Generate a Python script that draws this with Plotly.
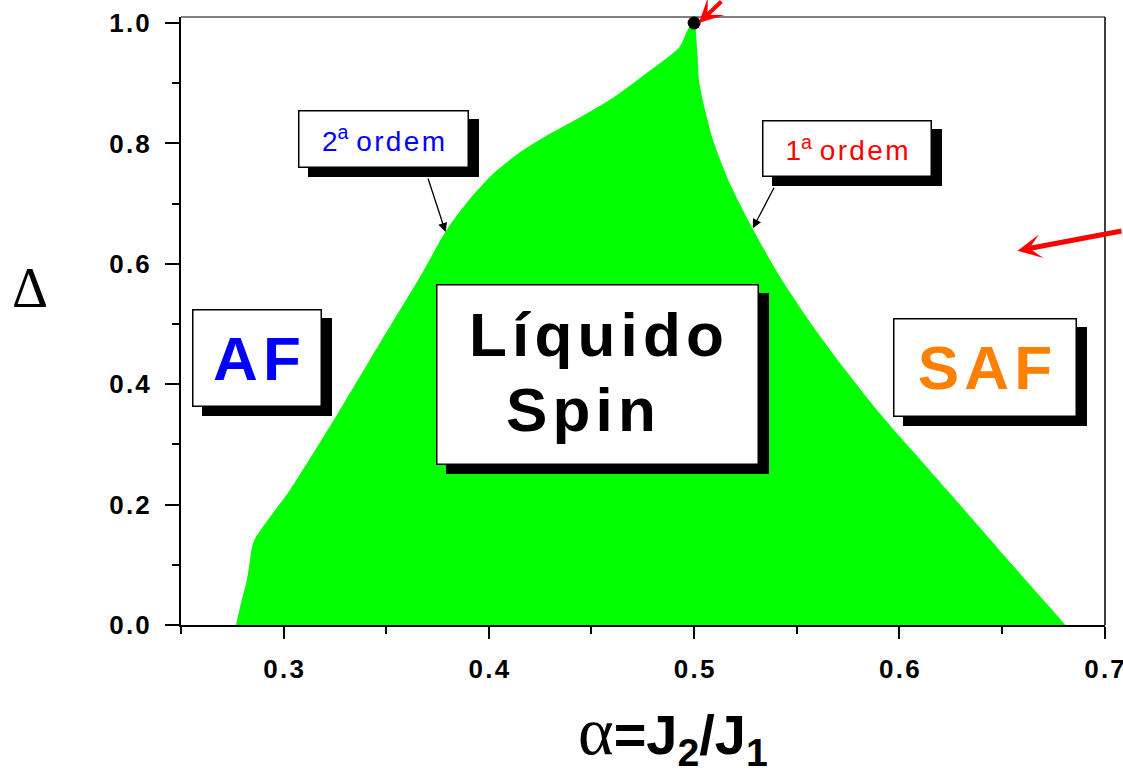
import plotly.graph_objects as go

# Phase boundaries in the (alpha = J2/J1, Delta) plane
# second-order line (AF | spin liquid), from Delta = 0 up to the tricritical point
left_alpha = [0.2768, 0.2796, 0.2821, 0.2836, 0.2846, 0.2862, 0.2888, 0.2948,
              0.3031, 0.3274, 0.3469, 0.3664, 0.3794, 0.3891, 0.4019, 0.4150,
              0.4282, 0.4443, 0.4603, 0.4769, 0.4929, 0.4968, 0.5000]
left_delta = [0.0000, 0.0415, 0.0748, 0.1080, 0.1300, 0.1445, 0.1580, 0.1860,
              0.2243, 0.3571, 0.4684, 0.5781, 0.6561, 0.7010, 0.7490, 0.7850,
              0.8130, 0.8430, 0.8754, 0.9169, 0.9601, 0.9884, 1.0000]
# first-order line (spin liquid | SAF), from the tricritical point down to Delta = 0
right_alpha = [0.5000, 0.5016, 0.5024, 0.5043, 0.5092, 0.5173, 0.5286, 0.5416,
               0.5578, 0.5741, 0.5903, 0.6065, 0.6228, 0.6390, 0.6551, 0.6715,
               0.6809]
right_delta = [1.0000, 0.9500, 0.9050, 0.8704, 0.8056, 0.7342, 0.6578, 0.5797,
               0.4967, 0.4219, 0.3522, 0.2890, 0.2259, 0.1628, 0.0997, 0.0365,
               0.0000]

# tricritical point
tri_alpha = [0.5]
tri_delta = [1.0]

# axis ticks
x_ticks = [0.3, 0.4, 0.5, 0.6, 0.7]
x_minor = [0.25, 0.35, 0.45, 0.55, 0.65]
y_ticks = [0.0, 0.2, 0.4, 0.6, 0.8, 1.0]
y_minor = [0.1, 0.3, 0.5, 0.7, 0.9]

HAIR = "\u200a"


def spaced(s, sep=HAIR):
    return sep.join(s)


x_labels = [spaced(f"{v:.1f}") for v in x_ticks]
y_labels = [spaced(f"{v:.1f}") for v in y_ticks]

SANS = "Liberation Sans, Arial, sans-serif"
SERIF = "Liberation Serif, Times New Roman, serif"

fig = go.Figure()

# spin-liquid region
fig.add_trace(go.Scatter(
    x=left_alpha + right_alpha[1:],
    y=left_delta + right_delta[1:],
    mode="lines", fill="toself", fillcolor="#00ff00",
    line=dict(width=0, color="#00ff00", shape="spline", smoothing=0.7),
    hoverinfo="skip", showlegend=False,
))

fig.add_trace(go.Scatter(
    x=tri_alpha, y=tri_delta, mode="markers",
    marker=dict(color="black", size=13),
    cliponaxis=False, hoverinfo="skip", showlegend=False,
))


def box(x, y, w, h, text=" ", font=None):
    """Framed label with a black drop shadow."""
    common = dict(x=x, y=y, xref="x", yref="y", showarrow=False,
                  xanchor="center", yanchor="middle",
                  width=w - 3, height=h - 3, borderpad=0, borderwidth=1.5,
                  bordercolor="black", align="center", valign="middle")
    fig.add_annotation(text=" ", bgcolor="black", xshift=10, yshift=-9, **common)
    fig.add_annotation(text=text, bgcolor="white", font=font or dict(), **common)


big = dict(family=SANS, size=62, weight="bold")

box(0.2870, 0.4435, 130, 98, spaced("AF"), dict(big, color="#0000ff"))
box(0.6416, 0.4271, 184, 99, spaced("SAF"), dict(big, color="#ff8000"))
box(0.4530, 0.4161, 323, 181)
fig.add_annotation(x=0.4523, y=0.4834, text=spaced("Líquido"), showarrow=False,
                   xanchor="center", yanchor="middle", font=dict(big, color="black"))
fig.add_annotation(x=0.4451, y=0.3588, text=spaced("Spin"), showarrow=False,
                   xanchor="center", yanchor="middle", font=dict(big, color="black"))

small = dict(family=SANS, size=28)
box(0.3487, 0.8070, 171, 58,
    "2<sup>a</sup> " + spaced("ordem"), dict(small, color="#0000ff"))
box(0.5746, 0.7922, 170, 57,
    "1<sup>a</sup> " + spaced("ordem"), dict(small, color="#ff0000"))

# pointers from the labels to the transition lines
fig.add_annotation(x=0.3789, y=0.6528, ax=-18, ay=-55, text="", showarrow=True,
                   arrowhead=2, arrowsize=1.4, arrowwidth=1.3, arrowcolor="black")
fig.add_annotation(x=0.5286, y=0.6590, ax=22, ay=-42, text="", showarrow=True,
                   arrowhead=2, arrowsize=1.4, arrowwidth=1.3, arrowcolor="black")

# red arrows
fig.add_annotation(x=0.6576, y=0.6218, ax=135, ay=-20, text="", showarrow=True,
                   arrowhead=3, arrowsize=0.8, arrowwidth=5, arrowcolor="#ff0000")
fig.add_annotation(x=0.5023, y=1.0, ax=24, ay=-40, text="", showarrow=True,
                   arrowhead=3, arrowsize=1.0, arrowwidth=4, arrowcolor="#ff0000")

# axis titles
fig.add_annotation(xref="paper", yref="paper", x=-0.1634, y=0.554,
                   xanchor="center", yanchor="middle",
                   text="\u0394", showarrow=False,
                   font=dict(family=SERIF, size=56, color="black"))
fig.add_annotation(xref="paper", yref="paper", x=0.5325, y=-0.178,
                   xanchor="center", yanchor="middle",
                   text=("<span style='font-family:Liberation Serif;font-weight:normal;font-size:68px'>\u03b1</span>"
                         "=J<sub>2</sub>/J<sub>1</sub>"),
                   showarrow=False,
                   font=dict(family=SANS, size=56, weight="bold", color="black"))

# frame: top and right edges
fig.add_shape(type="line", xref="x domain", yref="y domain", x0=0, x1=1, y0=1, y1=1,
              line=dict(color="black", width=1))
fig.add_shape(type="line", xref="x domain", yref="y domain", x0=1, x1=1, y0=0, y1=1,
              line=dict(color="black", width=1.5))

tickfont = dict(family=SANS, size=26, weight="bold", color="black")
fig.update_xaxes(
    range=[0.25, 0.7002], tickmode="array", tickvals=x_ticks, ticktext=x_labels,
    ticks="outside", ticklen=12, tickwidth=2, tickcolor="black",
    showline=True, linewidth=2, linecolor="black",
    showgrid=False, zeroline=False, tickfont=tickfont, ticklabelstandoff=8,
    ticklabeloverflow="allow", automargin=False,
    minor=dict(tickmode="array", tickvals=x_minor, ticks="outside", ticklen=7,
               tickwidth=2, tickcolor="black", showgrid=False),
)
fig.update_yaxes(
    range=[0.0, 1.01], tickmode="array", tickvals=y_ticks, ticktext=y_labels,
    ticks="outside", ticklen=14, tickwidth=2, tickcolor="black",
    showline=True, linewidth=2, linecolor="black",
    showgrid=False, zeroline=False, tickfont=tickfont, ticklabelstandoff=10,
    automargin=False,
    minor=dict(tickmode="array", tickvals=y_minor, ticks="outside", ticklen=7,
               tickwidth=2, tickcolor="black", showgrid=False),
)

fig.update_layout(
    width=1123, height=774,
    margin=dict(l=181, r=18, t=17, b=149, autoexpand=False),
    plot_bgcolor="white", paper_bgcolor="white",
    showlegend=False,
    font=dict(family=SANS, color="black"),
)

fig.write_html("out.html")
